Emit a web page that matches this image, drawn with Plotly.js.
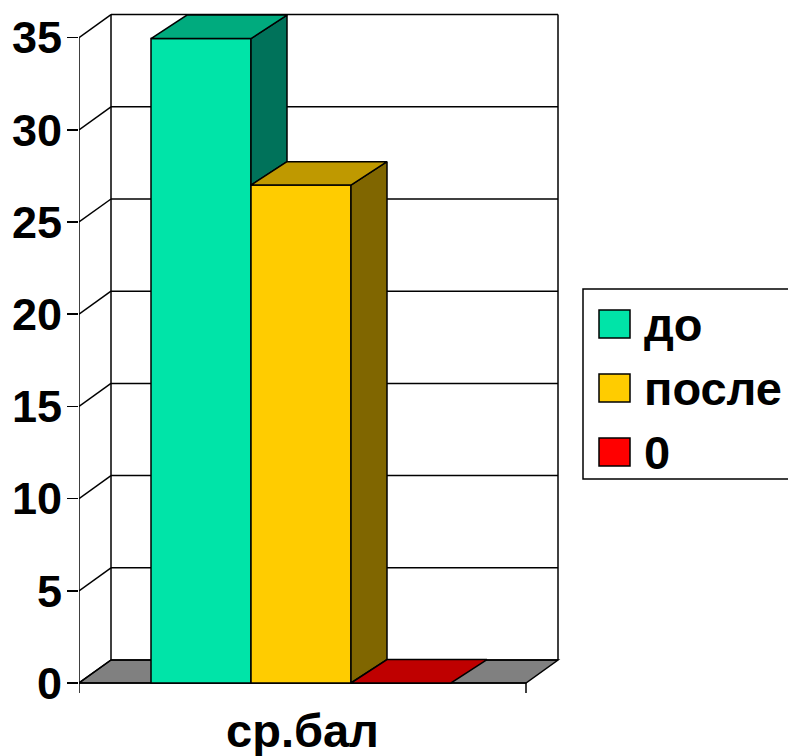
<!DOCTYPE html>
<html>
<head>
<meta charset="utf-8">
<script src="https://cdn.plot.ly/plotly-3.0.1.min.js"></script>
<style>html,body{margin:0;padding:0;background:#fff;overflow:hidden}</style>
</head>
<body>
<div id="chart" style="width:788px;height:756px"></div>
<script>
// ---- data ----
const categories = ['ср.бал'];
const seriesNames = ['до', 'после', '0'];
const seriesValues = [34.95, 27, 0];
const yTicks = [0, 5, 10, 15, 20, 25, 30, 35];

// ---- styles ----
const frontColors = ['#00E4A8', '#FFCC00', '#FF0000'];
const topColors   = ['#00AB7E', '#BF9900', '#BF0000'];
const sideColors  = ['#00725A', '#806600', '#800000'];
const floorColor = '#808080';
const ink = '#000000';
const lw = 1.5;
const baseFont = {family: '"Liberation Sans", Arial, sans-serif', size: 45, color: ink, weight: 700};
const labelFont = Object.assign({}, baseFont, {size: 47});

// ---- geometry (x unit = one bar width) ----
const W = 788, H = 756;
const plotL = 79, plotR = 561, plotB = 693, pxPerX = 100, pxPerY = 18.44;
const xMax = (plotR - plotL) / pxPerX;
const yMin = -(plotB - 683) / pxPerY, yMax = 683 / pxPerY;
const frontW = 4.47, wallDx = 0.32, wallDy = 23 / pxPerY;
const barDx = 0.36, barDy = 23.4 / pxPerY, firstBar = 0.72;
const barL = seriesValues.map((_, i) => firstBar + i);

// paper helpers for the legend box, which sits outside the plot area
const toPaperX = p => (p - plotL) / (plotR - plotL);
const toPaperY = p => (plotB - p) / plotB;

const traces = [];
// front faces: real bars
seriesValues.forEach((v, i) => traces.push({
  type: 'bar', x: [barL[i] + 0.5], y: [v], width: [1], name: seriesNames[i],
  marker: {color: frontColors[i], line: {color: ink, width: lw}},
  showlegend: false, hoverinfo: 'name+y'
}));
function poly(xs, ys, color) {
  traces.push({type: 'scatter', mode: 'lines', x: xs.concat(xs[0]), y: ys.concat(ys[0]),
    fill: 'toself', fillcolor: color, line: {color: ink, width: lw},
    showlegend: false, hoverinfo: 'skip'});
}
// side and top faces from the values; a side stops where the next bar hides it
seriesValues.forEach((v, i) => {
  const l = barL[i], r = l + 1;
  const next = i + 1 < seriesValues.length ? seriesValues[i + 1] : 0;
  if (v > 0) poly([r, r + barDx, r + barDx, r], [v, v + barDy, next + barDy, next], sideColors[i]);
});
seriesValues.forEach((v, i) => {
  const l = barL[i], r = l + 1;
  poly([l, l + barDx, r + barDx, r], [v, v + barDy, v + barDy, v], topColors[i]);
});

// walls, floor, gridlines below the traces
const seg = (x0, y0, x1, y1) => ({type: 'line', xref: 'x', yref: 'y', x0, y0, x1, y1,
  layer: 'below', line: {color: ink, width: lw}});
const shapes = [{
  type: 'path', xref: 'x', yref: 'y', layer: 'below', fillcolor: floorColor,
  path: `M0,0 L${frontW},0 L${frontW + wallDx},${wallDy} L${wallDx},${wallDy} Z`,
  line: {color: ink, width: lw}
}];
yTicks.forEach(t => {
  shapes.push(seg(wallDx, t + wallDy, frontW + wallDx, t + wallDy));
  shapes.push(seg(0, t, wallDx, t + wallDy));
});
const topTick = yTicks[yTicks.length - 1];
shapes.push(seg(wallDx, wallDy, wallDx, topTick + wallDy));
shapes.push(seg(frontW + wallDx, wallDy, frontW + wallDx, topTick + wallDy));
shapes.push(seg(0, yMin, 0, topTick));
shapes.push(seg(frontW, yMin, frontW, 0));
shapes.push(seg(0, 0, frontW, 0));

// legend
const annotations = [];
shapes.push({type: 'rect', xref: 'paper', yref: 'paper', x0: toPaperX(583), x1: toPaperX(800), y0: toPaperY(479), y1: toPaperY(289),
  fillcolor: '#fff', line: {color: ink, width: lw}});
const rowY = [324, 388, 452];
seriesNames.forEach((n, i) => {
  shapes.push({type: 'rect', xref: 'paper', yref: 'paper', x0: toPaperX(599), x1: toPaperX(630),
    y0: toPaperY(rowY[i] + 14), y1: toPaperY(rowY[i] - 14), fillcolor: frontColors[i], line: {color: ink, width: lw}});
  annotations.push({xref: 'paper', yref: 'paper', x: toPaperX(642), y: toPaperY(rowY[i]), xanchor: 'left', yanchor: 'middle',
    text: n, showarrow: false, font: labelFont, align: 'left'});
});

const layout = {
  width: W, height: H, autosize: false, showlegend: false, barmode: 'overlay',
  paper_bgcolor: '#fff', plot_bgcolor: '#fff',
  margin: {l: plotL, r: W - plotR, t: 0, b: H - plotB, pad: 0},
  xaxis: {range: [0, xMax], tickvals: [frontW / 2], ticktext: categories, ticks: '', showgrid: false,
    zeroline: false, showline: false, tickfont: labelFont, tickangle: 0, ticklabelstandoff: 6, fixedrange: true},
  yaxis: {range: [yMin, yMax], tickvals: yTicks, ticktext: yTicks.map(String), ticks: 'outside', ticklen: 11,
    tickwidth: lw, tickcolor: ink, showgrid: false, zeroline: false, showline: false, tickfont: baseFont,
    ticklabelstandoff: -4, fixedrange: true},
  shapes, annotations
};
Plotly.newPlot('chart', traces, layout, {displayModeBar: false, staticPlot: true});
</script>
</body>
</html>
